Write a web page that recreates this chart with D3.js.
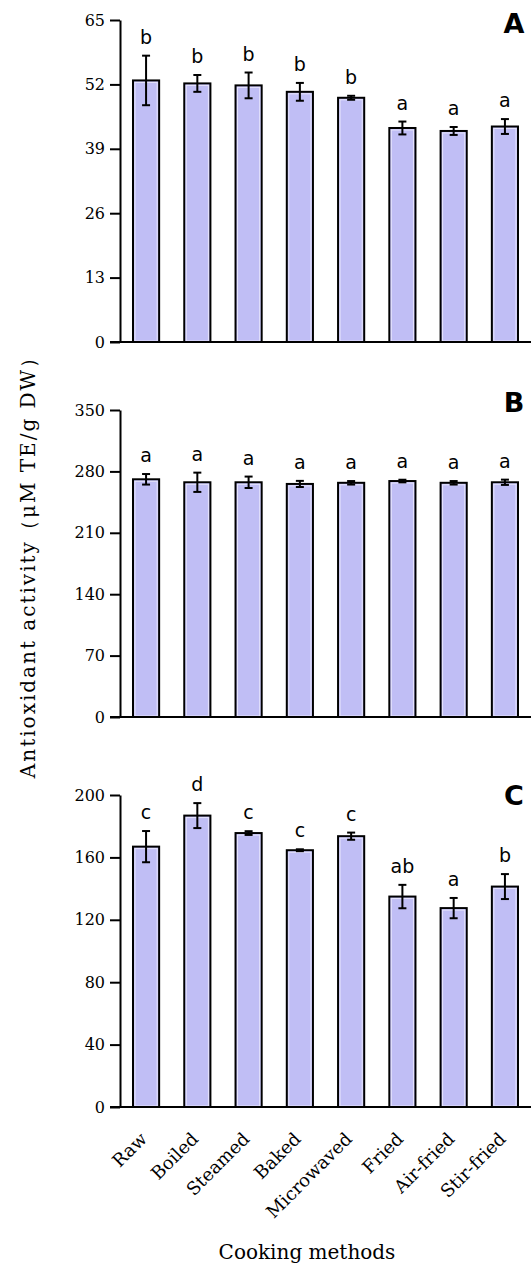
<!DOCTYPE html>
<html>
<head>
<meta charset="utf-8">
<script src="https://cdn.jsdelivr.net/npm/d3@7"></script>
<style>
  html, body { margin: 0; padding: 0; background: #fff; }
  svg { display: block; }
</style>
</head>
<body>
<div id="chart"></div>
<script>
// cooking methods (shared x categories)
const methods = ['Raw', 'Boiled', 'Steamed', 'Baked', 'Microwaved', 'Fried', 'Air-fried', 'Stir-fried'];

// panel A
const valuesA = [52.8, 52.2, 51.8, 50.5, 49.3, 43.2, 42.6, 43.5];
const errorsA = [5.0, 1.7, 2.6, 1.8, 0.4, 1.3, 0.8, 1.5];
const lettersA = ['b', 'b', 'b', 'b', 'b', 'a', 'a', 'a'];
const ticksA = [0, 13, 26, 39, 52, 65];

// panel B
const valuesB = [271, 267.6, 267.6, 265.7, 267, 269, 267, 267.6];
const errorsB = [6, 11, 6.5, 3.5, 2, 1.5, 2, 3];
const lettersB = ['a', 'a', 'a', 'a', 'a', 'a', 'a', 'a'];
const ticksB = [0, 70, 140, 210, 280, 350];

// panel C
const valuesC = [166.9, 186.8, 175.6, 164.6, 173.6, 134.9, 127.5, 141.3];
const errorsC = [10, 8, 1.2, 0.6, 2.3, 7.5, 6.5, 8];
const lettersC = ['c', 'd', 'c', 'c', 'c', 'ab', 'a', 'b'];
const ticksC = [0, 40, 80, 120, 160, 200];

const width = 531, height = 1267;
const axisX = 120;

const panels = [
  { name: 'A', values: valuesA, errors: errorsA, letters: lettersA, ticks: ticksA, top: 20, bottom: 342, tagY: 33 },
  { name: 'B', values: valuesB, errors: errorsB, letters: lettersB, ticks: ticksB, top: 410, bottom: 717, tagY: 412 },
  { name: 'C', values: valuesC, errors: errorsC, letters: lettersC, ticks: ticksC, top: 795, bottom: 1107, tagY: 805 }
];

const svg = d3.select('#chart')
  .append('svg')
  .attr('width', width)
  .attr('height', height);

const x = d3.scaleBand()
  .domain(methods)
  .range([axisX + 1, 530])
  .paddingInner(0.49)
  .paddingOuter(0.234);

panels.forEach((p) => {
  const y = d3.scaleLinear()
    .domain([0, d3.max(p.ticks)])
    .range([p.bottom, p.top]);

  const g = svg.append('g');

  // bars
  g.selectAll('rect.bar')
    .data(p.values)
    .enter()
    .append('rect')
    .attr('class', 'bar')
    .attr('x', (d, i) => x(methods[i]))
    .attr('y', (d) => y(d))
    .attr('width', x.bandwidth())
    .attr('height', (d) => y(0) - y(d))
    .attr('fill', '#c0bef5')
    .attr('stroke', '#000')
    .attr('stroke-width', 2);

  // thin light inner line
  g.selectAll('rect.inner')
    .data(p.values)
    .enter()
    .append('rect')
    .attr('class', 'inner')
    .attr('x', (d, i) => x(methods[i]) + 2)
    .attr('y', (d) => y(d) + 2)
    .attr('width', x.bandwidth() - 4)
    .attr('height', (d) => Math.max(0, y(0) - y(d) - 3))
    .attr('fill', 'none')
    .attr('stroke', '#e6e4fc')
    .attr('stroke-width', 1);

  // error bars
  const eb = g.selectAll('g.err')
    .data(p.values)
    .enter()
    .append('g')
    .attr('class', 'err')
    .attr('stroke', '#000')
    .attr('stroke-width', 2);

  eb.append('line')
    .attr('x1', (d, i) => x(methods[i]) + x.bandwidth() / 2)
    .attr('x2', (d, i) => x(methods[i]) + x.bandwidth() / 2)
    .attr('y1', (d, i) => y(d - p.errors[i]))
    .attr('y2', (d, i) => y(d + p.errors[i]));

  [1, -1].forEach((s) => {
    eb.append('line')
      .attr('x1', (d, i) => x(methods[i]) + x.bandwidth() / 2 - 4)
      .attr('x2', (d, i) => x(methods[i]) + x.bandwidth() / 2 + 4)
      .attr('y1', (d, i) => y(d + s * p.errors[i]))
      .attr('y2', (d, i) => y(d + s * p.errors[i]));
  });

  // significance letters
  g.selectAll('text.sig')
    .data(p.letters)
    .enter()
    .append('text')
    .attr('class', 'sig')
    .attr('x', (d, i) => x(methods[i]) + x.bandwidth() / 2)
    .attr('y', (d, i) => y(p.values[i] + p.errors[i]) - 12)
    .attr('text-anchor', 'middle')
    .style('font-family', '"DejaVu Sans", Verdana, sans-serif')
    .style('font-size', '19px')
    .text((d) => d);

  // y axis
  const yAxis = g.append('g')
    .attr('transform', `translate(${axisX},0)`)
    .call(d3.axisLeft(y).tickValues(p.ticks).tickSize(10).tickSizeOuter(0).tickPadding(5));
  yAxis.select('.domain').attr('stroke-width', 2);
  yAxis.selectAll('.tick line').attr('stroke-width', 2);
  yAxis.selectAll('.tick text')
    .style('font-family', '"DejaVu Serif", serif')
    .style('font-size', '16px')
    .attr('fill', '#000');

  // baseline
  g.append('line')
    .attr('x1', axisX - 10)
    .attr('x2', width)
    .attr('y1', y(0))
    .attr('y2', y(0))
    .attr('stroke', '#000')
    .attr('stroke-width', 2);

  // panel letter
  g.append('text')
    .attr('x', 514)
    .attr('y', p.tagY)
    .attr('text-anchor', 'middle')
    .style('font-family', '"DejaVu Sans", sans-serif')
    .style('font-weight', 'bold')
    .style('font-size', '27px')
    .text(p.name);
});

// x labels (bottom panel only)
const last = panels[panels.length - 1];
svg.append('g')
  .selectAll('text')
  .data(methods)
  .enter()
  .append('text')
  .attr('transform', (d) => `translate(${x(d) + x.bandwidth() / 2 + 2},${last.bottom + 33}) rotate(-45)`)
  .attr('text-anchor', 'end')
  .style('font-family', '"DejaVu Serif", serif')
  .style('font-size', '18px')
  .text((d) => d);

svg.append('text')
  .attr('x', 307)
  .attr('y', 1259)
  .attr('text-anchor', 'middle')
  .style('font-family', '"DejaVu Serif", serif')
  .style('font-size', '20px')
  .text('Cooking methods');

svg.append('text')
  .attr('transform', 'translate(35,562) rotate(-90)')
  .attr('text-anchor', 'middle')
  .style('font-family', '"DejaVu Serif", serif')
  .style('font-size', '20px')
  .style('letter-spacing', '2px')
  .text('Antioxidant activity（μM TE/g DW）');
</script>
</body>
</html>
